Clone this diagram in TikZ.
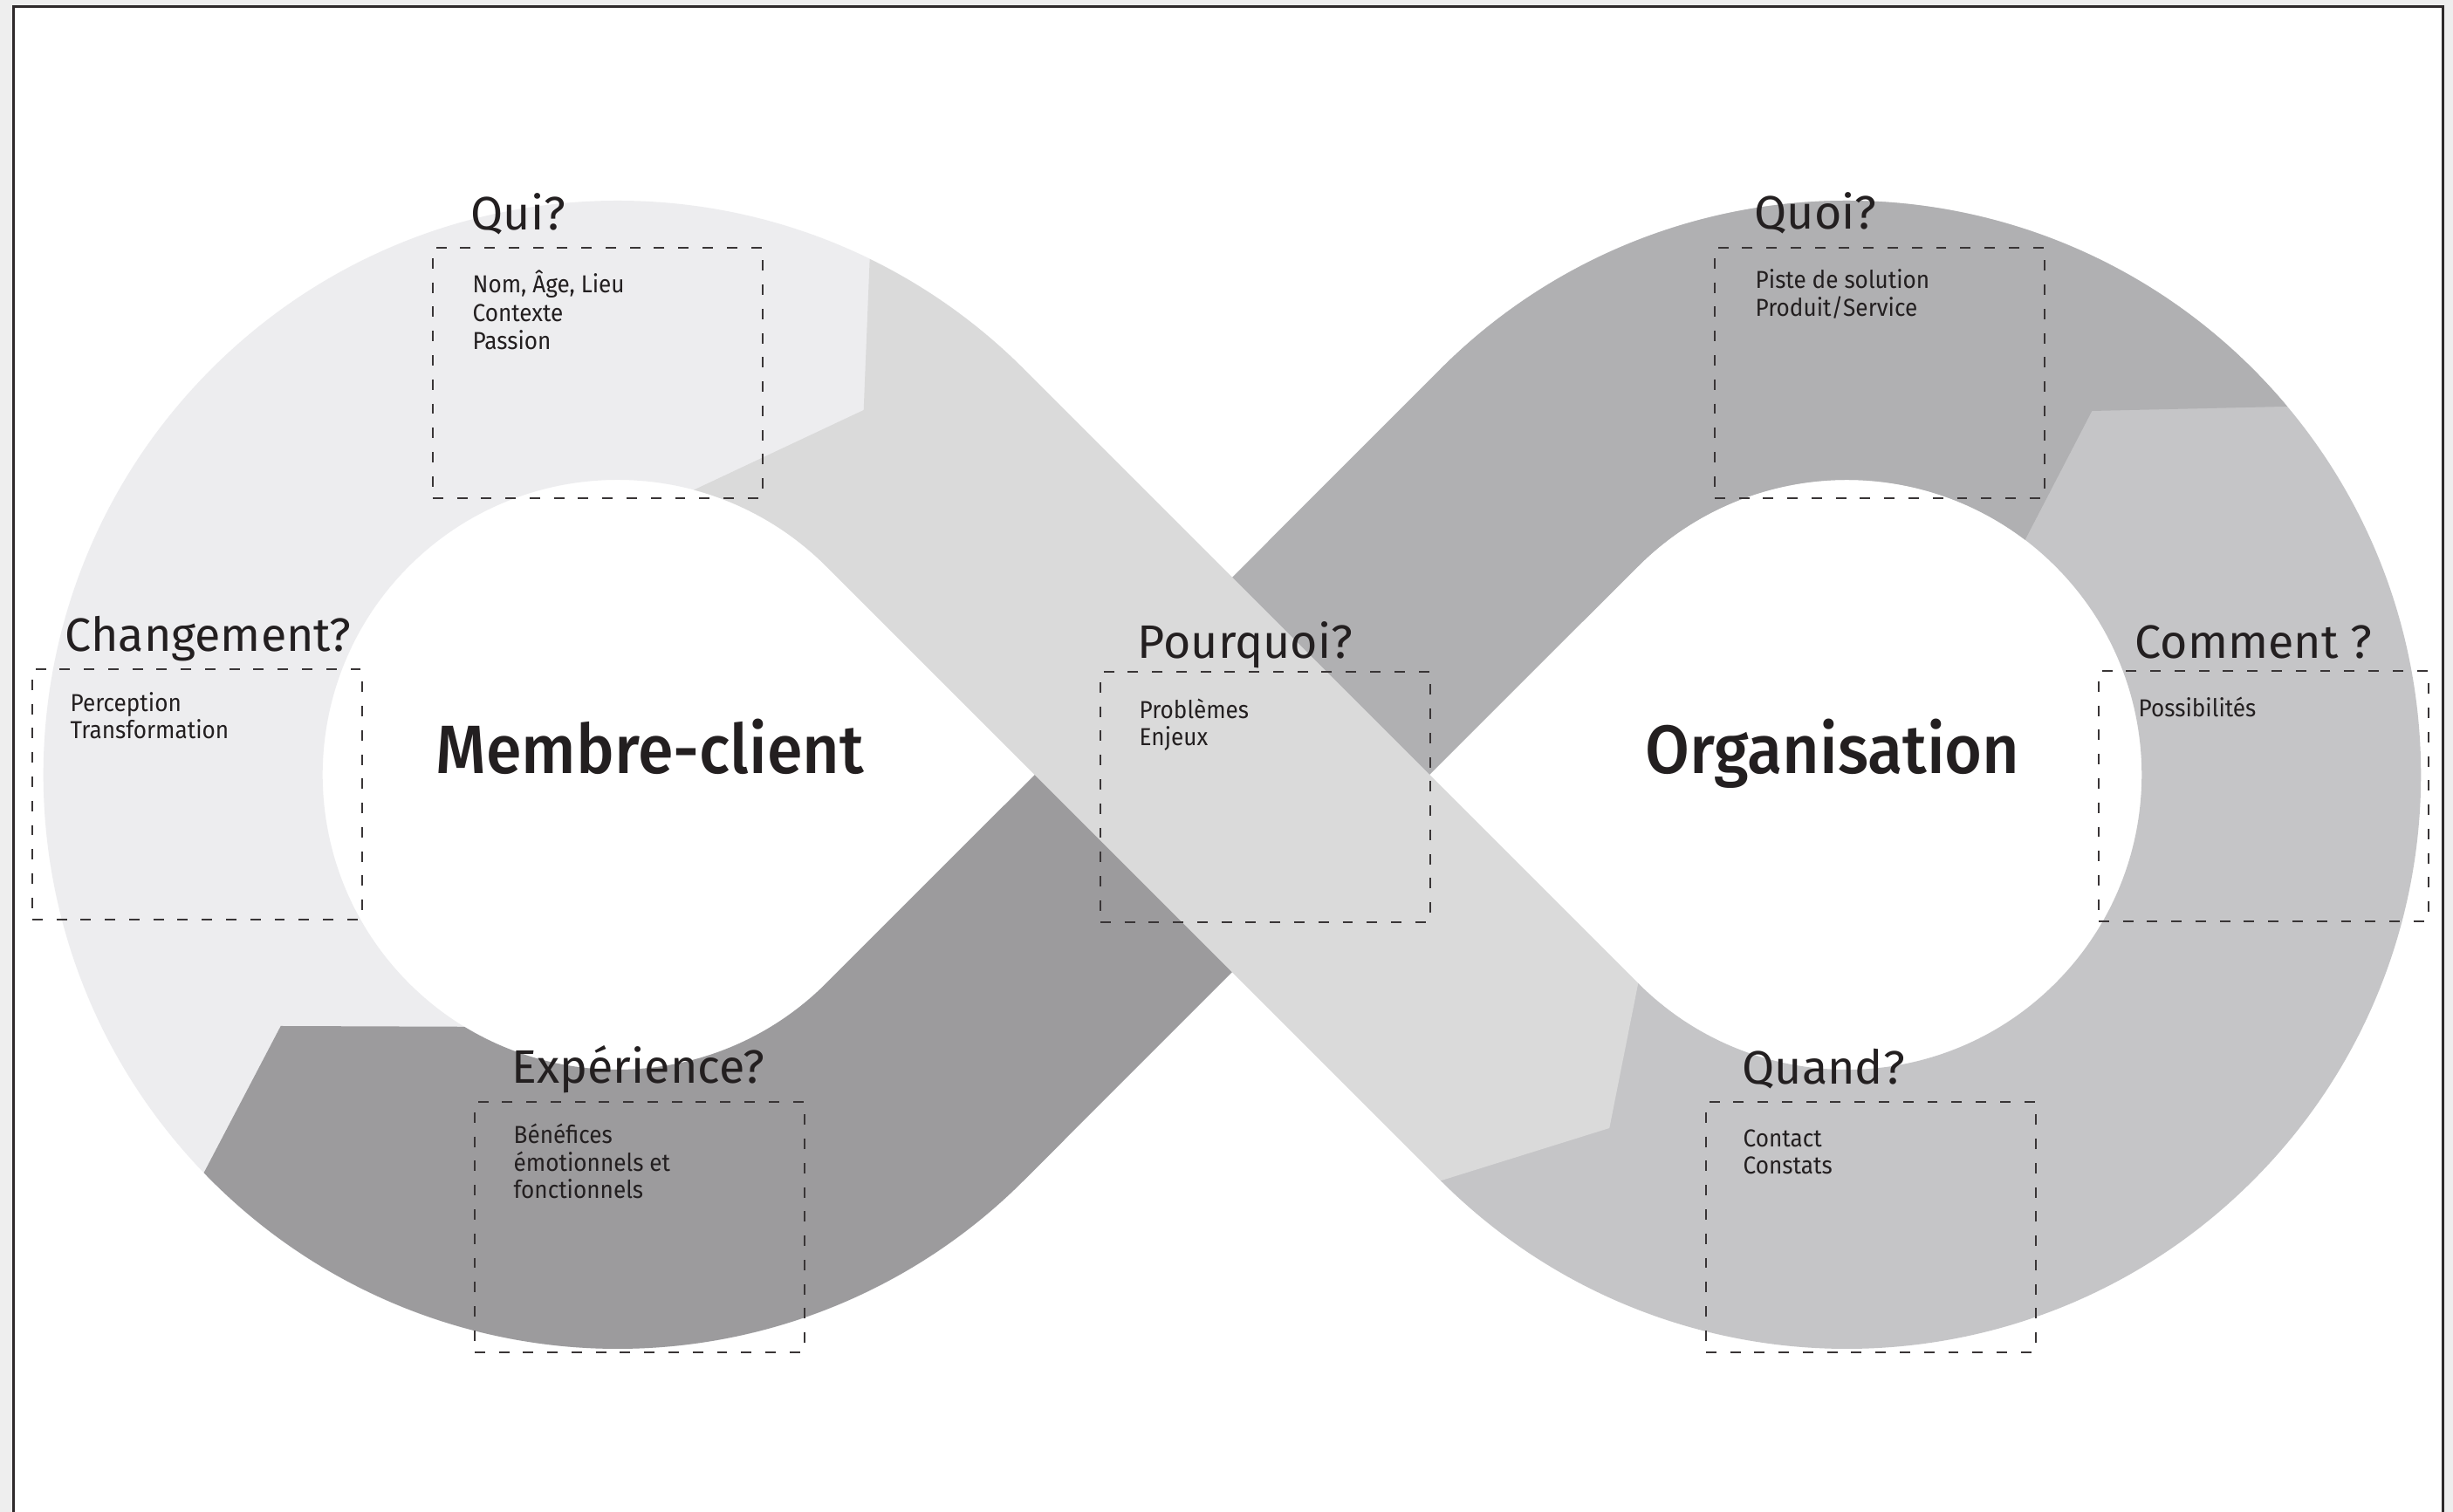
\documentclass[tikz,border=0pt]{standalone}
\usepackage{fontspec}
\setmainfont{Fira Sans}[BoldFont={Fira Sans Medium}]
\newfontfamily\namefont{Fira Sans Medium}[FakeStretch=0.94]
\newfontfamily\boxfont{Fira Sans}[FakeStretch=0.93]
\usetikzlibrary{calc}
\usetikzlibrary{positioning}
\definecolor{custom-pale}{RGB}{237, 237, 239}
\definecolor{custom-light}{RGB}{218, 218, 218}
\definecolor{custom-dark}{RGB}{156, 155, 157}
\definecolor{custom-mid}{RGB}{176, 176, 178}
\definecolor{custom-silver}{RGB}{197, 197, 199}
\definecolor{custom-ink}{RGB}{35, 31, 32}
\definecolor{custom-page}{RGB}{238, 238, 238}
\tikzset{
  qbox/.style={draw=custom-ink!90, dash pattern=on 3.4pt off 4.5pt, line width=0.5pt,
    minimum width=3.78cm, minimum height=2.87cm, anchor=north west, inner sep=0pt},
  qtitle/.style={anchor=base west, inner sep=0pt, text=custom-ink, font=\fontsize{15.3}{18}\selectfont},
  qtext/.style={anchor=base west, inner sep=0pt, align=left, text=custom-ink, font=\boxfont\fontsize{8}{9.1}\selectfont},
  bigname/.style={anchor=base, inner sep=0pt, text=custom-ink, font=\namefont\fontsize{22.3}{26}\selectfont}
}
\def\ringout{6.58}
\def\ringin{3.38}
\begin{document}
\begin{tikzpicture}
\useasboundingbox (-14.12,-8.45) rectangle (13.99,8.88);
\fill[custom-page] (-14.12,-8.45) rectangle (13.99,8.88);
\fill[white] (-13.965,-8.6) rectangle (13.87,8.805);
\draw[line width=0.03cm, custom-ink!95] (-13.965,-8.6) -- (-13.965,8.805) -- (13.87,8.805) -- (13.87,-8.6);

\coordinate (lc) at (-7.0428,0);
\coordinate (rc) at (7.0428,0);
% tips of the segments
\coordinate (k1) at ($(lc)+(2.82,4.18)$);
\coordinate (k2) at ($(lc)+(-3.86,-2.88)$);
\coordinate (k3) at ($(rc)+(2.81,4.17)$);
\coordinate (k4) at ($(rc)+(-2.72,-4.05)$);

% rings
\fill[custom-pale] ($(lc)+(45:\ringout)$) arc[start angle=45, end angle=315, radius=\ringout]
  -- ($(lc)+(315:\ringin)$) arc[start angle=315, end angle=45, radius=\ringin] -- cycle;
\fill[custom-silver] ($(rc)+(-135:\ringout)$) arc[start angle=-135, end angle=135, radius=\ringout]
  -- ($(rc)+(135:\ringin)$) arc[start angle=135, end angle=-135, radius=\ringin] -- cycle;
% rising band
\fill[custom-dark] (k2) -- ($(lc)+(223.9:\ringout)$) arc[start angle=223.9, end angle=315, radius=\ringout]
  -- (1.131,-1.131) -- (-1.131,1.131)
  -- ($(lc)+(315:\ringin)$) arc[start angle=315, end angle=238.7, radius=\ringin] -- cycle;
\fill[custom-mid] (-1.131,1.131) -- (1.131,-1.131)
  -- ($(rc)+(135:\ringin)$) arc[start angle=135, end angle=52.8, radius=\ringin]
  -- (k3) -- ($(rc)+(39.9:\ringout)$) arc[start angle=39.9, end angle=135, radius=\ringout] -- cycle;
% falling band
\fill[custom-light] (k1) -- ($(lc)+(63.95:\ringout)$) arc[start angle=63.95, end angle=45, radius=\ringout]
  -- ($(rc)+(225:\ringin)$) -- (k4) -- ($(rc)+(225:\ringout)$)
  -- ($(lc)+(45:\ringin)$) arc[start angle=45, end angle=75, radius=\ringin] -- cycle;

\node[bigname] (membre) at (-6.67,0.01) {Membre-client};
\node[bigname] (orga) at (6.88,0.01) {Organisation};

% base of a text block = its last line
\node[qbox] (qui) at (-9.17,6.05) {};
\node[qtitle] (qui-title) at ($(qui.north west)+(0.44,0.19)$) {Qui?};
\node[qtext] (qui-text) at ($(qui.north west)+(0.46,-1.18)$) {Nom, Âge, Lieu\\[0.4pt]Contexte\\Passion};

\node[qbox] (chg) at (-13.76,1.22) {};
\node[qtitle] (chg-title) at ($(chg.north west)+(0.38,0.19)$) {Changement?};
\node[qtext] (chg-text) at ($(chg.north west)+(0.44,-0.81)$) {Perception\\Transformation};

\node[qbox] (pqi) at (-1.52,1.19) {};
\node[qtitle] (pqi-title) at ($(pqi.north west)+(0.43,0.14)$) {Pourquoi?};
\node[qtext] (pqi-text) at ($(pqi.north west)+(0.45,-0.86)$) {Problèmes\\Enjeux};

\node[qbox] (exp) at (-8.69,-3.74) {};
\node[qtitle] (exp-title) at ($(exp.north west)+(0.43,0.2)$) {Expérience?};
\node[qtext] (exp-text) at ($(exp.north west)+(0.45,-1.12)$) {Bénéfices\\émotionnels et\\fonctionnels};

\node[qbox] (quoi) at (5.52,6.05) {};
\node[qtitle] (quoi-title) at ($(quoi.north west)+(0.46,0.2)$) {Quoi?};
\node[qtext] (quoi-text) at ($(quoi.north west)+(0.47,-0.8)$) {Piste de solution\\Produit/Service};

\node[qbox] (comm) at (9.92,1.2) {};
\node[qtitle] (comm-title) at ($(comm.north west)+(0.42,0.13)$) {Comment ?};
\node[qtext] (comm-text) at ($(comm.north west)+(0.46,-0.54)$) {Possibilités};

\node[qbox] (quand) at (5.42,-3.74) {};
\node[qtitle] (quand-title) at ($(quand.north west)+(0.42,0.19)$) {Quand?};
\node[qtext] (quand-text) at ($(quand.north west)+(0.43,-0.84)$) {Contact\\Constats};
\end{tikzpicture}
\end{document}
